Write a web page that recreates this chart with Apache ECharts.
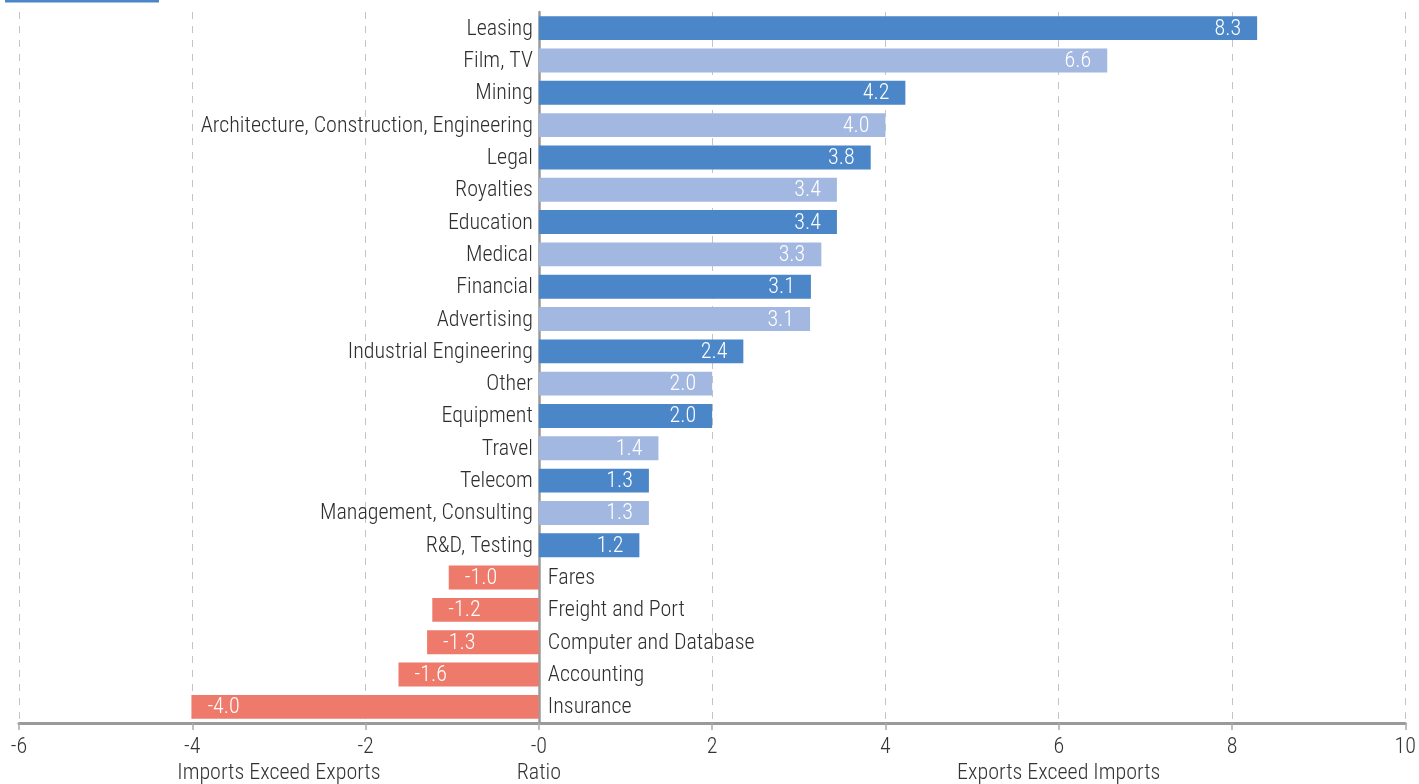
<!DOCTYPE html>
<html><head><meta charset="utf-8">
<script src="https://cdn.jsdelivr.net/npm/echarts@6/dist/echarts.min.js"></script>
<style>html,body{margin:0;padding:0;background:#fff}#c{width:1419px;height:784px}</style>
</head><body><div id="c"></div>
<script>
const categories = ["Leasing","Film, TV","Mining","Architecture, Construction, Engineering","Legal","Royalties","Education","Medical","Financial","Advertising","Industrial Engineering","Other","Equipment","Travel","Telecom","Management, Consulting","R&D, Testing","Fares","Freight and Port","Computer and Database","Accounting","Insurance"];
const values = [8.29,6.56,4.23,4.0,3.83,3.44,3.44,3.26,3.14,3.13,2.36,2.0,2.0,1.38,1.27,1.27,1.16,-1.04,-1.23,-1.29,-1.62,-4.01];
const xTicks = [-6,-4,-2,0,2,4,6,8,10];
const xTickLabels = ["-6","-4","-2","-0","2","4","6","8","10"];
const axisTitles = [["Imports Exceed Exports",-3],["Ratio",0],["Exports Exceed Imports",6]];

const FONT = "'Roboto Condensed','Liberation Sans Narrow','Arial Narrow',Roboto,sans-serif";
const FS = 22, FW = 300;
const DARK = '#4a86c8', LIGHT = '#a3b8e0', RED = '#ee7a6b';
const chart = echarts.init(document.getElementById('c'));
const mainData = values.map((v,i)=>({
  value: v,
  itemStyle:{color: v<0 ? RED : (i%2===0 ? DARK : LIGHT)},
  label:{position: v<0 ? 'insideLeft' : 'insideRight'}
}));
const nameData = values.map((v,i)=>({
  value: v,
  label:{position: v<0 ? 'right' : 'left', distance: v<0 ? 9 : 6, formatter: categories[i]}
}));
chart.setOption({
  animation:false,
  grid:{left:19,right:12,top:12,bottom:61,containLabel:false},
  xAxis:{type:'value',min:-6,max:10,interval:2,
    axisLine:{show:true,onZero:false,lineStyle:{color:'#9a9a9a',width:3}},
    axisTick:{show:true,length:7,lineStyle:{color:'#aaa',width:1.5}},
    axisLabel:{color:'#333',fontFamily:FONT,fontSize:FS,fontWeight:FW,margin:13,
      formatter:(v)=>{const k=xTicks.indexOf(v);return k>=0?xTickLabels[k]:'';}},
    splitLine:{show:true,lineStyle:{color:'#c4c4c4',type:[7,7],width:1}}
  },
  yAxis:{type:'category',data:categories,inverse:true,
    axisLine:{show:true,onZero:true,lineStyle:{color:'#9a9a9a',width:2.5}},
    axisTick:{show:false},axisLabel:{show:false},splitLine:{show:false}
  },
  series:[
    {type:'bar',data:mainData,barCategoryGap:'26%',z:2,
      label:{show:true,color:'#fff',fontFamily:FONT,fontSize:FS,fontWeight:FW,distance:16,
        offset:[0,1],formatter:(p)=>p.value.toFixed(1)}},
    {type:'bar',data:nameData,barGap:'-100%',barCategoryGap:'26%',z:1,
      itemStyle:{color:'rgba(0,0,0,0)'},
      label:{show:true,color:'#2e2e2e',fontFamily:FONT,fontSize:FS,fontWeight:FW,offset:[0,1]}}
  ]
});
const gfx=[{type:'rect',shape:{x:5,y:0,width:154,height:2.5},style:{fill:DARK}}];
axisTitles.forEach(([t,v])=>{
  const x=chart.convertToPixel({xAxisIndex:0},v);
  gfx.push({type:'text',x:x,y:773,style:{text:t,fill:'#333',font:FW+' '+FS+'px '+FONT,textAlign:'center',textVerticalAlign:'middle'}});
});
chart.setOption({graphic:gfx});
</script></body></html>
